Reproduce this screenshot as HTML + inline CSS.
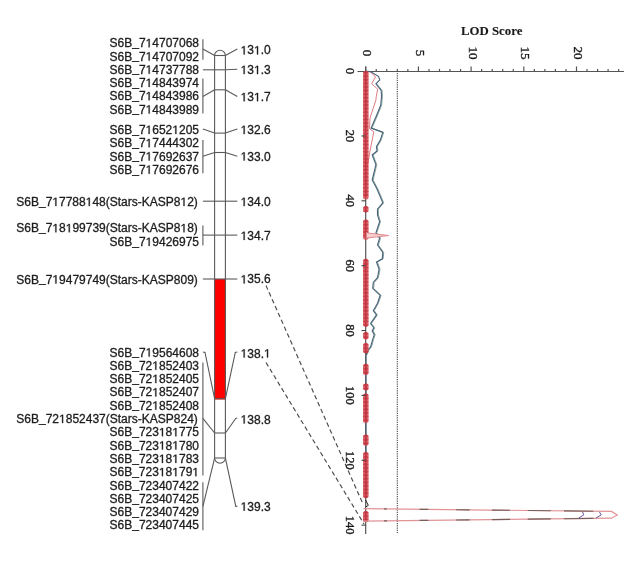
<!DOCTYPE html>
<html><head><meta charset="utf-8"><style>
html,body{margin:0;padding:0;background:#fff;}
svg{display:block;will-change:transform;}
</style></head><body>
<svg width="624" height="565" viewBox="0 0 624 565">
<defs><filter id="bl" x="0" y="0" width="624" height="565" filterUnits="userSpaceOnUse"><feGaussianBlur stdDeviation="0.3"/></filter></defs>
<rect width="624" height="565" fill="#fff"/>
<g filter="url(#bl)">
<g font-family="Liberation Sans, sans-serif" font-size="12" fill="#1c1c1c" stroke="#1c1c1c" stroke-width="0.3">
<text class="lab" x="199" y="47.20" text-anchor="end">S6B<tspan dy="-1.3">_</tspan><tspan dy="1.3">7<tspan fill="transparent" stroke="transparent">1</tspan>4707068</tspan></text>
<text class="lab" x="199" y="60.50" text-anchor="end">S6B<tspan dy="-1.3">_</tspan><tspan dy="1.3">7<tspan fill="transparent" stroke="transparent">1</tspan>4707092</tspan></text>
<text class="lab" x="199" y="73.70" text-anchor="end">S6B<tspan dy="-1.3">_</tspan><tspan dy="1.3">7<tspan fill="transparent" stroke="transparent">1</tspan>4737788</tspan></text>
<text class="lab" x="199" y="87.00" text-anchor="end">S6B<tspan dy="-1.3">_</tspan><tspan dy="1.3">7<tspan fill="transparent" stroke="transparent">1</tspan>4843974</tspan></text>
<text class="lab" x="199" y="100.30" text-anchor="end">S6B<tspan dy="-1.3">_</tspan><tspan dy="1.3">7<tspan fill="transparent" stroke="transparent">1</tspan>4843986</tspan></text>
<text class="lab" x="199" y="113.60" text-anchor="end">S6B<tspan dy="-1.3">_</tspan><tspan dy="1.3">7<tspan fill="transparent" stroke="transparent">1</tspan>4843989</tspan></text>
<text class="lab" x="199" y="133.90" text-anchor="end">S6B<tspan dy="-1.3">_</tspan><tspan dy="1.3">7<tspan fill="transparent" stroke="transparent">1</tspan>652<tspan fill="transparent" stroke="transparent">1</tspan>205</tspan></text>
<text class="lab" x="199" y="147.20" text-anchor="end">S6B<tspan dy="-1.3">_</tspan><tspan dy="1.3">7<tspan fill="transparent" stroke="transparent">1</tspan>7444302</tspan></text>
<text class="lab" x="199" y="160.50" text-anchor="end">S6B<tspan dy="-1.3">_</tspan><tspan dy="1.3">7<tspan fill="transparent" stroke="transparent">1</tspan>7692637</tspan></text>
<text class="lab" x="199" y="173.80" text-anchor="end">S6B<tspan dy="-1.3">_</tspan><tspan dy="1.3">7<tspan fill="transparent" stroke="transparent">1</tspan>7692676</tspan></text>
<text class="lab" x="197.8" y="206.00" text-anchor="end">S6B<tspan dy="-1.3">_</tspan><tspan dy="1.3">7<tspan fill="transparent" stroke="transparent">1</tspan>7788<tspan fill="transparent" stroke="transparent">1</tspan>48(Stars-KASP8<tspan fill="transparent" stroke="transparent">1</tspan>2)</tspan></text>
<text class="lab" x="197.8" y="232.30" text-anchor="end">S6B<tspan dy="-1.3">_</tspan><tspan dy="1.3">7<tspan fill="transparent" stroke="transparent">1</tspan>8<tspan fill="transparent" stroke="transparent">1</tspan>99739(Stars-KASP8<tspan fill="transparent" stroke="transparent">1</tspan>8)</tspan></text>
<text class="lab" x="199" y="246.00" text-anchor="end">S6B<tspan dy="-1.3">_</tspan><tspan dy="1.3">7<tspan fill="transparent" stroke="transparent">1</tspan>9426975</tspan></text>
<text class="lab" x="197.8" y="283.50" text-anchor="end">S6B<tspan dy="-1.3">_</tspan><tspan dy="1.3">7<tspan fill="transparent" stroke="transparent">1</tspan>9479749(Stars-KASP809)</tspan></text>
<text class="lab" x="199" y="356.50" text-anchor="end">S6B<tspan dy="-1.3">_</tspan><tspan dy="1.3">7<tspan fill="transparent" stroke="transparent">1</tspan>9564608</tspan></text>
<text class="lab" x="199" y="369.80" text-anchor="end">S6B<tspan dy="-1.3">_</tspan><tspan dy="1.3">72<tspan fill="transparent" stroke="transparent">1</tspan>852403</tspan></text>
<text class="lab" x="199" y="383.10" text-anchor="end">S6B<tspan dy="-1.3">_</tspan><tspan dy="1.3">72<tspan fill="transparent" stroke="transparent">1</tspan>852405</tspan></text>
<text class="lab" x="199" y="396.40" text-anchor="end">S6B<tspan dy="-1.3">_</tspan><tspan dy="1.3">72<tspan fill="transparent" stroke="transparent">1</tspan>852407</tspan></text>
<text class="lab" x="199" y="409.70" text-anchor="end">S6B<tspan dy="-1.3">_</tspan><tspan dy="1.3">72<tspan fill="transparent" stroke="transparent">1</tspan>852408</tspan></text>
<text class="lab" x="197.8" y="423.00" text-anchor="end">S6B<tspan dy="-1.3">_</tspan><tspan dy="1.3">72<tspan fill="transparent" stroke="transparent">1</tspan>852437(Stars-KASP824)</tspan></text>
<text class="lab" x="199" y="436.30" text-anchor="end">S6B<tspan dy="-1.3">_</tspan><tspan dy="1.3">723<tspan fill="transparent" stroke="transparent">1</tspan>8<tspan fill="transparent" stroke="transparent">1</tspan>775</tspan></text>
<text class="lab" x="199" y="449.60" text-anchor="end">S6B<tspan dy="-1.3">_</tspan><tspan dy="1.3">723<tspan fill="transparent" stroke="transparent">1</tspan>8<tspan fill="transparent" stroke="transparent">1</tspan>780</tspan></text>
<text class="lab" x="199" y="462.90" text-anchor="end">S6B<tspan dy="-1.3">_</tspan><tspan dy="1.3">723<tspan fill="transparent" stroke="transparent">1</tspan>8<tspan fill="transparent" stroke="transparent">1</tspan>783</tspan></text>
<text class="lab" x="199" y="476.20" text-anchor="end">S6B<tspan dy="-1.3">_</tspan><tspan dy="1.3">723<tspan fill="transparent" stroke="transparent">1</tspan>8<tspan fill="transparent" stroke="transparent">1</tspan>79<tspan fill="transparent" stroke="transparent">1</tspan></tspan></text>
<text class="lab" x="199" y="489.50" text-anchor="end">S6B<tspan dy="-1.3">_</tspan><tspan dy="1.3">723407422</tspan></text>
<text class="lab" x="199" y="502.80" text-anchor="end">S6B<tspan dy="-1.3">_</tspan><tspan dy="1.3">723407425</tspan></text>
<text class="lab" x="199" y="516.10" text-anchor="end">S6B<tspan dy="-1.3">_</tspan><tspan dy="1.3">723407429</tspan></text>
<text class="lab" x="199" y="529.40" text-anchor="end">S6B<tspan dy="-1.3">_</tspan><tspan dy="1.3">723407445</tspan></text>
<text class="lab" x="240.6" y="54.40"><tspan fill="transparent" stroke="transparent">1</tspan>3<tspan fill="transparent" stroke="transparent">1</tspan>.0</text>
<text class="lab" x="240.6" y="74.10"><tspan fill="transparent" stroke="transparent">1</tspan>3<tspan fill="transparent" stroke="transparent">1</tspan>.3</text>
<text class="lab" x="240.6" y="101.20"><tspan fill="transparent" stroke="transparent">1</tspan>3<tspan fill="transparent" stroke="transparent">1</tspan>.7</text>
<text class="lab" x="240.6" y="134.10"><tspan fill="transparent" stroke="transparent">1</tspan>32.6</text>
<text class="lab" x="240.6" y="160.60"><tspan fill="transparent" stroke="transparent">1</tspan>33.0</text>
<text class="lab" x="240.6" y="206.10"><tspan fill="transparent" stroke="transparent">1</tspan>34.0</text>
<text class="lab" x="240.6" y="239.90"><tspan fill="transparent" stroke="transparent">1</tspan>34.7</text>
<text class="lab" x="240.6" y="283.40"><tspan fill="transparent" stroke="transparent">1</tspan>35.6</text>
<text class="lab" x="240.6" y="357.60"><tspan fill="transparent" stroke="transparent">1</tspan>38.<tspan fill="transparent" stroke="transparent">1</tspan></text>
<text class="lab" x="240.6" y="423.60"><tspan fill="transparent" stroke="transparent">1</tspan>38.8</text>
<text class="lab" x="240.6" y="510.70"><tspan fill="transparent" stroke="transparent">1</tspan>39.3</text>
</g>
<path fill="#1c1c1c" stroke="#1c1c1c" stroke-width="0.3" stroke-linejoin="round" d="M148.61 47.20 L148.61 39.95 L146.75 41.28 L146.75 40.29 L148.70 38.94 L149.67 38.94 L149.67 47.20Z M148.61 60.50 L148.61 53.25 L146.75 54.58 L146.75 53.59 L148.70 52.24 L149.67 52.24 L149.67 60.50Z M148.61 73.70 L148.61 66.45 L146.75 67.78 L146.75 66.79 L148.70 65.44 L149.67 65.44 L149.67 73.70Z M148.61 87.00 L148.61 79.75 L146.75 81.08 L146.75 80.09 L148.70 78.74 L149.67 78.74 L149.67 87.00Z M148.61 100.30 L148.61 93.05 L146.75 94.38 L146.75 93.39 L148.70 92.04 L149.67 92.04 L149.67 100.30Z M148.61 113.60 L148.61 106.35 L146.75 107.68 L146.75 106.69 L148.70 105.34 L149.67 105.34 L149.67 113.60Z M148.58 133.90 L148.58 126.65 L146.72 127.98 L146.72 126.99 L148.67 125.64 L149.64 125.64 L149.64 133.90Z M175.30 133.90 L175.30 126.65 L173.44 127.98 L173.44 126.99 L175.39 125.64 L176.36 125.64 L176.36 133.90Z M148.61 147.20 L148.61 139.95 L146.75 141.28 L146.75 140.29 L148.70 138.94 L149.67 138.94 L149.67 147.20Z M148.61 160.50 L148.61 153.25 L146.75 154.58 L146.75 153.59 L148.70 152.24 L149.67 152.24 L149.67 160.50Z M148.61 173.80 L148.61 166.55 L146.75 167.88 L146.75 166.89 L148.70 165.54 L149.67 165.54 L149.67 173.80Z M55.33 206.00 L55.33 198.75 L53.47 200.08 L53.47 199.09 L55.42 197.74 L56.39 197.74 L56.39 206.00Z M88.72 206.00 L88.72 198.75 L86.86 200.08 L86.86 199.09 L88.81 197.74 L89.78 197.74 L89.78 206.00Z M183.46 206.00 L183.46 198.75 L181.59 200.08 L181.59 199.09 L183.55 197.74 L184.52 197.74 L184.52 206.00Z M55.33 232.30 L55.33 225.05 L53.47 226.38 L53.47 225.39 L55.42 224.04 L56.39 224.04 L56.39 232.30Z M68.71 232.30 L68.71 225.05 L66.84 226.38 L66.84 225.39 L68.80 224.04 L69.77 224.04 L69.77 232.30Z M183.46 232.30 L183.46 225.05 L181.59 226.38 L181.59 225.39 L183.55 224.04 L184.52 224.04 L184.52 232.30Z M148.61 246.00 L148.61 238.75 L146.75 240.08 L146.75 239.09 L148.70 237.74 L149.67 237.74 L149.67 246.00Z M55.38 283.50 L55.38 276.25 L53.52 277.58 L53.52 276.59 L55.47 275.24 L56.44 275.24 L56.44 283.50Z M148.61 356.50 L148.61 349.25 L146.75 350.58 L146.75 349.59 L148.70 348.24 L149.67 348.24 L149.67 356.50Z M155.28 369.80 L155.28 362.55 L153.42 363.88 L153.42 362.89 L155.37 361.54 L156.34 361.54 L156.34 369.80Z M155.28 383.10 L155.28 375.85 L153.42 377.18 L153.42 376.19 L155.37 374.84 L156.34 374.84 L156.34 383.10Z M155.28 396.40 L155.28 389.15 L153.42 390.48 L153.42 389.49 L155.37 388.14 L156.34 388.14 L156.34 396.40Z M155.28 409.70 L155.28 402.45 L153.42 403.78 L153.42 402.79 L155.37 401.44 L156.34 401.44 L156.34 409.70Z M62.05 423.00 L62.05 415.75 L60.19 417.08 L60.19 416.09 L62.14 414.74 L63.11 414.74 L63.11 423.00Z M161.92 436.30 L161.92 429.05 L160.06 430.38 L160.06 429.39 L162.01 428.04 L162.98 428.04 L162.98 436.30Z M175.30 436.30 L175.30 429.05 L173.44 430.38 L173.44 429.39 L175.39 428.04 L176.36 428.04 L176.36 436.30Z M161.92 449.60 L161.92 442.35 L160.06 443.68 L160.06 442.69 L162.01 441.34 L162.98 441.34 L162.98 449.60Z M175.30 449.60 L175.30 442.35 L173.44 443.68 L173.44 442.69 L175.39 441.34 L176.36 441.34 L176.36 449.60Z M161.92 462.90 L161.92 455.65 L160.06 456.98 L160.06 455.99 L162.01 454.64 L162.98 454.64 L162.98 462.90Z M175.30 462.90 L175.30 455.65 L173.44 456.98 L173.44 455.99 L175.39 454.64 L176.36 454.64 L176.36 462.90Z M161.91 476.20 L161.91 468.95 L160.04 470.28 L160.04 469.29 L162.00 467.94 L162.97 467.94 L162.97 476.20Z M175.28 476.20 L175.28 468.95 L173.42 470.28 L173.42 469.29 L175.37 467.94 L176.34 467.94 L176.34 476.20Z M195.33 476.20 L195.33 468.95 L193.47 470.28 L193.47 469.29 L195.42 467.94 L196.39 467.94 L196.39 476.20Z M243.62 54.40 L243.62 47.15 L241.75 48.48 L241.75 47.49 L243.71 46.14 L244.68 46.14 L244.68 54.40Z M256.99 54.40 L256.99 47.15 L255.13 48.48 L255.13 47.49 L257.08 46.14 L258.05 46.14 L258.05 54.40Z M243.62 74.10 L243.62 66.85 L241.75 68.18 L241.75 67.19 L243.71 65.84 L244.68 65.84 L244.68 74.10Z M256.99 74.10 L256.99 66.85 L255.13 68.18 L255.13 67.19 L257.08 65.84 L258.05 65.84 L258.05 74.10Z M243.62 101.20 L243.62 93.95 L241.75 95.28 L241.75 94.29 L243.71 92.94 L244.68 92.94 L244.68 101.20Z M256.99 101.20 L256.99 93.95 L255.13 95.28 L255.13 94.29 L257.08 92.94 L258.05 92.94 L258.05 101.20Z M243.62 134.10 L243.62 126.85 L241.75 128.18 L241.75 127.19 L243.71 125.84 L244.68 125.84 L244.68 134.10Z M243.62 160.60 L243.62 153.35 L241.75 154.68 L241.75 153.69 L243.71 152.34 L244.68 152.34 L244.68 160.60Z M243.62 206.10 L243.62 198.85 L241.75 200.18 L241.75 199.19 L243.71 197.84 L244.68 197.84 L244.68 206.10Z M243.62 239.90 L243.62 232.65 L241.75 233.98 L241.75 232.99 L243.71 231.64 L244.68 231.64 L244.68 239.90Z M243.62 283.40 L243.62 276.15 L241.75 277.48 L241.75 276.49 L243.71 275.14 L244.68 275.14 L244.68 283.40Z M243.62 357.60 L243.62 350.35 L241.75 351.68 L241.75 350.69 L243.71 349.34 L244.68 349.34 L244.68 357.60Z M266.99 357.60 L266.99 350.35 L265.13 351.68 L265.13 350.69 L267.08 349.34 L268.05 349.34 L268.05 357.60Z M243.62 423.60 L243.62 416.35 L241.75 417.68 L241.75 416.69 L243.71 415.34 L244.68 415.34 L244.68 423.60Z M243.62 510.70 L243.62 503.45 L241.75 504.78 L241.75 503.79 L243.71 502.44 L244.68 502.44 L244.68 510.70Z"/>
<rect x="214.3" y="279" width="11.5" height="120.5" fill="#f00"/>
<g fill="none" stroke="#5a5a5a" stroke-width="1.1">
<path d="M214.6 458 L214.6 55.5 A5.4 5.2 0 0 1 225.4 55.5 L225.4 458 A5.4 5.2 0 0 1 214.6 458"/>
<line x1="214.6" y1="55.5" x2="225.4" y2="55.5"/>
<line x1="214.6" y1="69.8" x2="225.4" y2="69.8"/>
<line x1="214.6" y1="89.8" x2="225.4" y2="89.8"/>
<line x1="214.6" y1="133.1" x2="225.4" y2="133.1"/>
<line x1="214.6" y1="152.5" x2="225.4" y2="152.5"/>
<line x1="214.6" y1="201.2" x2="225.4" y2="201.2"/>
<line x1="214.6" y1="235.1" x2="225.4" y2="235.1"/>
<line x1="214.6" y1="279" x2="225.4" y2="279"/>
<line x1="214.6" y1="398.7" x2="225.4" y2="398.7"/>
<line x1="214.6" y1="433" x2="225.4" y2="433"/>
<line x1="214.6" y1="458" x2="225.4" y2="458"/>
<line x1="202.9" y1="39.3" x2="202.9" y2="59.7"/>
<line x1="202.9" y1="78.5" x2="202.9" y2="113.5"/>
<line x1="202.9" y1="140.1" x2="202.9" y2="173.3"/>
<line x1="202.9" y1="225.4" x2="202.9" y2="245.6"/>
<line x1="202.9" y1="362.4" x2="202.9" y2="475.6"/>
<line x1="202.9" y1="482.3" x2="202.9" y2="530.2"/>
<polyline points="202.9,49.1 214.6,55.5"/>
<polyline points="225.4,55.5 237.3,49.1"/>
<polyline points="202.9,69.8 214.6,69.8"/>
<polyline points="225.4,69.8 237.3,69.2"/>
<polyline points="202.9,96.5 214.6,89.8"/>
<polyline points="225.4,89.8 237.3,96.5"/>
<polyline points="202.9,129 214.6,133.1"/>
<polyline points="225.4,133.1 237.3,129"/>
<polyline points="202.9,156.3 214.6,152.5"/>
<polyline points="225.4,152.5 237.3,156.3"/>
<polyline points="202.9,201.2 214.6,201.2"/>
<polyline points="225.4,201.2 237.3,201.2"/>
<polyline points="202.9,235.1 214.6,235.1"/>
<polyline points="225.4,235.1 237.3,235.1"/>
<polyline points="202.9,279 214.6,279"/>
<polyline points="225.4,279 237.3,279"/>
<polyline points="202.9,352 205,352.4 214.6,398.7"/>
<polyline points="237.3,352 235.3,352.4 225.4,398.7"/>
<polyline points="202.9,418.3 214.6,433"/>
<polyline points="237.3,418.3 235.9,418.3 225.4,433"/>
<polyline points="202.9,506.4 214.6,458.2"/>
<polyline points="237.3,506.4 235.8,506.4 225.4,458.2"/>
</g>
<g stroke="#4a4a4a" stroke-width="1.15" stroke-dasharray="4.5 3" fill="none">
<line x1="266" y1="285.5" x2="363" y2="504"/>
<line x1="266" y1="362.5" x2="364" y2="524"/>
</g>
<g fill="none" stroke="#555" stroke-width="1.2">
<line x1="357.5" y1="71.5" x2="624" y2="71.5"/>
<line x1="365.7" y1="66.6" x2="365.7" y2="534"/>
<line x1="365.70" y1="66.5" x2="365.70" y2="71.1"/>
<line x1="376.24" y1="68.9" x2="376.24" y2="71.1"/>
<line x1="386.78" y1="68.9" x2="386.78" y2="71.1"/>
<line x1="397.32" y1="68.9" x2="397.32" y2="71.1"/>
<line x1="407.86" y1="68.9" x2="407.86" y2="71.1"/>
<line x1="418.40" y1="66.5" x2="418.40" y2="71.1"/>
<line x1="428.94" y1="68.9" x2="428.94" y2="71.1"/>
<line x1="439.48" y1="68.9" x2="439.48" y2="71.1"/>
<line x1="450.02" y1="68.9" x2="450.02" y2="71.1"/>
<line x1="460.56" y1="68.9" x2="460.56" y2="71.1"/>
<line x1="471.10" y1="66.5" x2="471.10" y2="71.1"/>
<line x1="481.64" y1="68.9" x2="481.64" y2="71.1"/>
<line x1="492.18" y1="68.9" x2="492.18" y2="71.1"/>
<line x1="502.72" y1="68.9" x2="502.72" y2="71.1"/>
<line x1="513.26" y1="68.9" x2="513.26" y2="71.1"/>
<line x1="523.80" y1="66.5" x2="523.80" y2="71.1"/>
<line x1="534.34" y1="68.9" x2="534.34" y2="71.1"/>
<line x1="544.88" y1="68.9" x2="544.88" y2="71.1"/>
<line x1="555.42" y1="68.9" x2="555.42" y2="71.1"/>
<line x1="565.96" y1="68.9" x2="565.96" y2="71.1"/>
<line x1="576.50" y1="66.5" x2="576.50" y2="71.1"/>
<line x1="587.04" y1="68.9" x2="587.04" y2="71.1"/>
<line x1="597.58" y1="68.9" x2="597.58" y2="71.1"/>
<line x1="608.12" y1="68.9" x2="608.12" y2="71.1"/>
<line x1="618.66" y1="68.9" x2="618.66" y2="71.1"/>
<line x1="629.20" y1="66.5" x2="629.20" y2="71.1"/>
</g>
<line x1="397.32" y1="71.1" x2="397.32" y2="533.5" stroke="#505050" stroke-width="1.15" stroke-dasharray="1 0.8"/>
<g font-family="Liberation Serif, serif" font-size="12.5" fill="#1a1a1a" stroke="#1a1a1a" stroke-width="0.35">
<text x="491.7" y="35" text-anchor="middle" font-weight="bold" font-size="12.8" stroke-width="0.12">LOD Score</text>
<text transform="translate(367.90,53) rotate(90)" text-anchor="middle" y="4.6" font-size="13.2">0</text>
<text transform="translate(420.60,53) rotate(90)" text-anchor="middle" y="4.6" font-size="13.2">5</text>
<text transform="translate(473.30,53) rotate(90)" text-anchor="middle" y="4.6" font-size="13.2">10</text>
<text transform="translate(526.00,53) rotate(90)" text-anchor="middle" y="4.6" font-size="13.2">15</text>
<text transform="translate(578.70,53) rotate(90)" text-anchor="middle" y="4.6" font-size="13.2">20</text>
<text transform="translate(350.3,71.10) rotate(90)" text-anchor="middle" y="4.3">0</text>
<text transform="translate(350.3,135.96) rotate(90)" text-anchor="middle" y="4.3">20</text>
<text transform="translate(350.3,200.82) rotate(90)" text-anchor="middle" y="4.3">40</text>
<text transform="translate(350.3,265.68) rotate(90)" text-anchor="middle" y="4.3">60</text>
<text transform="translate(350.3,330.54) rotate(90)" text-anchor="middle" y="4.3">80</text>
<text transform="translate(350.3,395.40) rotate(90)" text-anchor="middle" y="4.3">100</text>
<text transform="translate(350.3,460.26) rotate(90)" text-anchor="middle" y="4.3">120</text>
<text transform="translate(350.3,525.12) rotate(90)" text-anchor="middle" y="4.3">140</text>
</g>
<polyline points="376.8,83.8 382.1,90.5 382.4,96.9 382.1,100.0 381.6,105.3 376.8,117.0 372.0,128.1 383.7,132.4 381.1,140.3 377.3,146.7 377.9,151.0 373.1,155.0 376.8,164.6 375.8,168.8 373.1,180.0 377.9,189.0 383.7,202.8 378.4,209.2 378.4,215.0 380.5,221.7 376.8,232.8 380.5,238.1 378.4,245.0 383.7,252.5 383.2,258.8 377.4,262.0 380.0,269.2 378.4,277.7 374.2,282.5 373.6,288.4 381.1,295.3 378.4,303.2 374.2,310.7 377.4,314.9 371.5,323.5 374.7,327.7 373.1,331.0 375.2,334.6 373.6,339.4 371.5,346.9 368.9,350.0 366.9,355.0" fill="none" stroke="#8aa69a" stroke-width="1"/>
<polyline points="366.0,71.2 370.6,72.0 375.5,77.0 371.6,83.8 377.7,89.1 376.2,96.9 375.9,100.0 370.0,118.0 369.5,128.7 373.8,131.8 370.0,151.0 368.5,160.0 366.5,170.0" fill="none" stroke="#e07a80" stroke-width="1"/>
<polyline points="366.0,71.2 370.4,71.5 378.4,76.3 379.8,79.9 375.9,83.8 381.2,90.5 381.5,96.9 381.2,100.0 380.7,105.3 375.9,117.0 371.1,128.1 382.8,132.4 380.2,140.3 376.4,146.7 377.0,151.0 372.2,155.0 375.9,164.6 374.9,168.8 372.2,180.0 377.0,189.0 382.8,202.8 377.5,209.2 377.5,215.0 379.6,221.7 375.9,232.8 379.6,238.1 377.5,245.0 382.8,252.5 382.3,258.8 376.5,262.0 379.1,269.2 377.5,277.7 373.3,282.5 372.7,288.4 380.2,295.3 377.5,303.2 373.3,310.7 376.5,314.9 370.6,323.5 373.8,327.7 372.2,331.0 374.3,334.6 372.7,339.4 370.6,346.9 368.0,350.0 366.0,355.0 366.0,498.0" fill="none" stroke="#46627a" stroke-width="1.1"/>
<g>
<rect x="363" y="71" width="5.6" height="128.5" rx="2.5" fill="#d84a50" opacity="0.85"/>
<path d="M365.8 70.7 L368.9 72.6 L365.8 74.5 L362.7 72.6Z" fill="#b82030" opacity="0.5"/>
<path d="M365.8 74.3 L368.9 76.2 L365.8 78.1 L362.7 76.2Z" fill="#b82030" opacity="0.5"/>
<path d="M365.8 77.9 L368.9 79.8 L365.8 81.7 L362.7 79.8Z" fill="#b82030" opacity="0.5"/>
<path d="M365.8 81.5 L368.9 83.4 L365.8 85.3 L362.7 83.4Z" fill="#b82030" opacity="0.5"/>
<path d="M365.8 85.1 L368.9 87.0 L365.8 88.9 L362.7 87.0Z" fill="#b82030" opacity="0.5"/>
<path d="M365.8 88.7 L368.9 90.6 L365.8 92.5 L362.7 90.6Z" fill="#b82030" opacity="0.5"/>
<path d="M365.8 92.3 L368.9 94.2 L365.8 96.1 L362.7 94.2Z" fill="#b82030" opacity="0.5"/>
<path d="M365.8 95.9 L368.9 97.8 L365.8 99.7 L362.7 97.8Z" fill="#b82030" opacity="0.5"/>
<path d="M365.8 99.5 L368.9 101.4 L365.8 103.3 L362.7 101.4Z" fill="#b82030" opacity="0.5"/>
<path d="M365.8 103.1 L368.9 105.0 L365.8 106.9 L362.7 105.0Z" fill="#b82030" opacity="0.5"/>
<path d="M365.8 106.7 L368.9 108.6 L365.8 110.5 L362.7 108.6Z" fill="#b82030" opacity="0.5"/>
<path d="M365.8 110.3 L368.9 112.2 L365.8 114.1 L362.7 112.2Z" fill="#b82030" opacity="0.5"/>
<path d="M365.8 113.9 L368.9 115.8 L365.8 117.7 L362.7 115.8Z" fill="#b82030" opacity="0.5"/>
<path d="M365.8 117.5 L368.9 119.4 L365.8 121.3 L362.7 119.4Z" fill="#b82030" opacity="0.5"/>
<path d="M365.8 121.1 L368.9 123.0 L365.8 124.9 L362.7 123.0Z" fill="#b82030" opacity="0.5"/>
<path d="M365.8 124.7 L368.9 126.6 L365.8 128.5 L362.7 126.6Z" fill="#b82030" opacity="0.5"/>
<path d="M365.8 128.3 L368.9 130.2 L365.8 132.1 L362.7 130.2Z" fill="#b82030" opacity="0.5"/>
<path d="M365.8 131.9 L368.9 133.8 L365.8 135.7 L362.7 133.8Z" fill="#b82030" opacity="0.5"/>
<path d="M365.8 135.5 L368.9 137.4 L365.8 139.3 L362.7 137.4Z" fill="#b82030" opacity="0.5"/>
<path d="M365.8 139.1 L368.9 141.0 L365.8 142.9 L362.7 141.0Z" fill="#b82030" opacity="0.5"/>
<path d="M365.8 142.7 L368.9 144.6 L365.8 146.5 L362.7 144.6Z" fill="#b82030" opacity="0.5"/>
<path d="M365.8 146.3 L368.9 148.2 L365.8 150.1 L362.7 148.2Z" fill="#b82030" opacity="0.5"/>
<path d="M365.8 149.9 L368.9 151.8 L365.8 153.7 L362.7 151.8Z" fill="#b82030" opacity="0.5"/>
<path d="M365.8 153.5 L368.9 155.4 L365.8 157.3 L362.7 155.4Z" fill="#b82030" opacity="0.5"/>
<path d="M365.8 157.1 L368.9 159.0 L365.8 160.9 L362.7 159.0Z" fill="#b82030" opacity="0.5"/>
<path d="M365.8 160.7 L368.9 162.6 L365.8 164.5 L362.7 162.6Z" fill="#b82030" opacity="0.5"/>
<path d="M365.8 164.3 L368.9 166.2 L365.8 168.1 L362.7 166.2Z" fill="#b82030" opacity="0.5"/>
<path d="M365.8 167.9 L368.9 169.8 L365.8 171.7 L362.7 169.8Z" fill="#b82030" opacity="0.5"/>
<path d="M365.8 171.5 L368.9 173.4 L365.8 175.3 L362.7 173.4Z" fill="#b82030" opacity="0.5"/>
<path d="M365.8 175.1 L368.9 177.0 L365.8 178.9 L362.7 177.0Z" fill="#b82030" opacity="0.5"/>
<path d="M365.8 178.7 L368.9 180.6 L365.8 182.5 L362.7 180.6Z" fill="#b82030" opacity="0.5"/>
<path d="M365.8 182.3 L368.9 184.2 L365.8 186.1 L362.7 184.2Z" fill="#b82030" opacity="0.5"/>
<path d="M365.8 185.9 L368.9 187.8 L365.8 189.7 L362.7 187.8Z" fill="#b82030" opacity="0.5"/>
<path d="M365.8 189.5 L368.9 191.4 L365.8 193.3 L362.7 191.4Z" fill="#b82030" opacity="0.5"/>
<path d="M365.8 193.1 L368.9 195.0 L365.8 196.9 L362.7 195.0Z" fill="#b82030" opacity="0.5"/>
<rect x="363" y="206" width="5.6" height="6.3" rx="2.5" fill="#d84a50" opacity="0.85"/>
<path d="M365.8 205.7 L368.9 207.6 L365.8 209.5 L362.7 207.6Z" fill="#b82030" opacity="0.5"/>
<path d="M365.8 209.3 L368.9 211.2 L365.8 213.1 L362.7 211.2Z" fill="#b82030" opacity="0.5"/>
<rect x="363" y="219.6" width="5.6" height="20.1" rx="2.5" fill="#d84a50" opacity="0.85"/>
<path d="M365.8 219.3 L368.9 221.2 L365.8 223.1 L362.7 221.2Z" fill="#b82030" opacity="0.5"/>
<path d="M365.8 222.9 L368.9 224.8 L365.8 226.7 L362.7 224.8Z" fill="#b82030" opacity="0.5"/>
<path d="M365.8 226.5 L368.9 228.4 L365.8 230.3 L362.7 228.4Z" fill="#b82030" opacity="0.5"/>
<path d="M365.8 230.1 L368.9 232.0 L365.8 233.9 L362.7 232.0Z" fill="#b82030" opacity="0.5"/>
<path d="M365.8 233.7 L368.9 235.6 L365.8 237.5 L362.7 235.6Z" fill="#b82030" opacity="0.5"/>
<rect x="363" y="258.8" width="5.6" height="67.9" rx="2.5" fill="#d84a50" opacity="0.85"/>
<path d="M365.8 258.5 L368.9 260.4 L365.8 262.3 L362.7 260.4Z" fill="#b82030" opacity="0.5"/>
<path d="M365.8 262.1 L368.9 264.0 L365.8 265.9 L362.7 264.0Z" fill="#b82030" opacity="0.5"/>
<path d="M365.8 265.7 L368.9 267.6 L365.8 269.5 L362.7 267.6Z" fill="#b82030" opacity="0.5"/>
<path d="M365.8 269.3 L368.9 271.2 L365.8 273.1 L362.7 271.2Z" fill="#b82030" opacity="0.5"/>
<path d="M365.8 272.9 L368.9 274.8 L365.8 276.7 L362.7 274.8Z" fill="#b82030" opacity="0.5"/>
<path d="M365.8 276.5 L368.9 278.4 L365.8 280.3 L362.7 278.4Z" fill="#b82030" opacity="0.5"/>
<path d="M365.8 280.1 L368.9 282.0 L365.8 283.9 L362.7 282.0Z" fill="#b82030" opacity="0.5"/>
<path d="M365.8 283.7 L368.9 285.6 L365.8 287.5 L362.7 285.6Z" fill="#b82030" opacity="0.5"/>
<path d="M365.8 287.3 L368.9 289.2 L365.8 291.1 L362.7 289.2Z" fill="#b82030" opacity="0.5"/>
<path d="M365.8 290.9 L368.9 292.8 L365.8 294.7 L362.7 292.8Z" fill="#b82030" opacity="0.5"/>
<path d="M365.8 294.5 L368.9 296.4 L365.8 298.3 L362.7 296.4Z" fill="#b82030" opacity="0.5"/>
<path d="M365.8 298.1 L368.9 300.0 L365.8 301.9 L362.7 300.0Z" fill="#b82030" opacity="0.5"/>
<path d="M365.8 301.7 L368.9 303.6 L365.8 305.5 L362.7 303.6Z" fill="#b82030" opacity="0.5"/>
<path d="M365.8 305.3 L368.9 307.2 L365.8 309.1 L362.7 307.2Z" fill="#b82030" opacity="0.5"/>
<path d="M365.8 308.9 L368.9 310.8 L365.8 312.7 L362.7 310.8Z" fill="#b82030" opacity="0.5"/>
<path d="M365.8 312.5 L368.9 314.4 L365.8 316.3 L362.7 314.4Z" fill="#b82030" opacity="0.5"/>
<path d="M365.8 316.1 L368.9 318.0 L365.8 319.9 L362.7 318.0Z" fill="#b82030" opacity="0.5"/>
<path d="M365.8 319.7 L368.9 321.6 L365.8 323.5 L362.7 321.6Z" fill="#b82030" opacity="0.5"/>
<path d="M365.8 323.3 L368.9 325.2 L365.8 327.1 L362.7 325.2Z" fill="#b82030" opacity="0.5"/>
<rect x="363" y="332" width="5.6" height="7.4" rx="2.5" fill="#d84a50" opacity="0.85"/>
<path d="M365.8 331.7 L368.9 333.6 L365.8 335.5 L362.7 333.6Z" fill="#b82030" opacity="0.5"/>
<path d="M365.8 335.3 L368.9 337.2 L365.8 339.1 L362.7 337.2Z" fill="#b82030" opacity="0.5"/>
<rect x="363" y="343" width="5.6" height="10.2" rx="2.5" fill="#d84a50" opacity="0.85"/>
<path d="M365.8 342.7 L368.9 344.6 L365.8 346.5 L362.7 344.6Z" fill="#b82030" opacity="0.5"/>
<path d="M365.8 346.3 L368.9 348.2 L365.8 350.1 L362.7 348.2Z" fill="#b82030" opacity="0.5"/>
<path d="M365.8 349.9 L368.9 351.8 L365.8 353.7 L362.7 351.8Z" fill="#b82030" opacity="0.5"/>
<rect x="363" y="363.8" width="5.6" height="11.2" rx="2.5" fill="#d84a50" opacity="0.85"/>
<path d="M365.8 363.5 L368.9 365.4 L365.8 367.3 L362.7 365.4Z" fill="#b82030" opacity="0.5"/>
<path d="M365.8 367.1 L368.9 369.0 L365.8 370.9 L362.7 369.0Z" fill="#b82030" opacity="0.5"/>
<path d="M365.8 370.7 L368.9 372.6 L365.8 374.5 L362.7 372.6Z" fill="#b82030" opacity="0.5"/>
<rect x="363" y="383.5" width="5.6" height="7.1" rx="2.5" fill="#d84a50" opacity="0.85"/>
<path d="M365.8 383.2 L368.9 385.1 L365.8 387.0 L362.7 385.1Z" fill="#b82030" opacity="0.5"/>
<path d="M365.8 386.8 L368.9 388.7 L365.8 390.6 L362.7 388.7Z" fill="#b82030" opacity="0.5"/>
<rect x="363" y="393.4" width="5.6" height="29.6" rx="2.5" fill="#d84a50" opacity="0.85"/>
<path d="M365.8 393.1 L368.9 395.0 L365.8 396.9 L362.7 395.0Z" fill="#b82030" opacity="0.5"/>
<path d="M365.8 396.7 L368.9 398.6 L365.8 400.5 L362.7 398.6Z" fill="#b82030" opacity="0.5"/>
<path d="M365.8 400.3 L368.9 402.2 L365.8 404.1 L362.7 402.2Z" fill="#b82030" opacity="0.5"/>
<path d="M365.8 403.9 L368.9 405.8 L365.8 407.7 L362.7 405.8Z" fill="#b82030" opacity="0.5"/>
<path d="M365.8 407.5 L368.9 409.4 L365.8 411.3 L362.7 409.4Z" fill="#b82030" opacity="0.5"/>
<path d="M365.8 411.1 L368.9 413.0 L365.8 414.9 L362.7 413.0Z" fill="#b82030" opacity="0.5"/>
<path d="M365.8 414.7 L368.9 416.6 L365.8 418.5 L362.7 416.6Z" fill="#b82030" opacity="0.5"/>
<path d="M365.8 418.3 L368.9 420.2 L365.8 422.1 L362.7 420.2Z" fill="#b82030" opacity="0.5"/>
<rect x="363" y="434.5" width="5.6" height="11.3" rx="2.5" fill="#d84a50" opacity="0.85"/>
<path d="M365.8 434.2 L368.9 436.1 L365.8 438.0 L362.7 436.1Z" fill="#b82030" opacity="0.5"/>
<path d="M365.8 437.8 L368.9 439.7 L365.8 441.6 L362.7 439.7Z" fill="#b82030" opacity="0.5"/>
<path d="M365.8 441.4 L368.9 443.3 L365.8 445.2 L362.7 443.3Z" fill="#b82030" opacity="0.5"/>
<rect x="363" y="452" width="5.6" height="46.0" rx="2.5" fill="#d84a50" opacity="0.85"/>
<path d="M365.8 451.7 L368.9 453.6 L365.8 455.5 L362.7 453.6Z" fill="#b82030" opacity="0.5"/>
<path d="M365.8 455.3 L368.9 457.2 L365.8 459.1 L362.7 457.2Z" fill="#b82030" opacity="0.5"/>
<path d="M365.8 458.9 L368.9 460.8 L365.8 462.7 L362.7 460.8Z" fill="#b82030" opacity="0.5"/>
<path d="M365.8 462.5 L368.9 464.4 L365.8 466.3 L362.7 464.4Z" fill="#b82030" opacity="0.5"/>
<path d="M365.8 466.1 L368.9 468.0 L365.8 469.9 L362.7 468.0Z" fill="#b82030" opacity="0.5"/>
<path d="M365.8 469.7 L368.9 471.6 L365.8 473.5 L362.7 471.6Z" fill="#b82030" opacity="0.5"/>
<path d="M365.8 473.3 L368.9 475.2 L365.8 477.1 L362.7 475.2Z" fill="#b82030" opacity="0.5"/>
<path d="M365.8 476.9 L368.9 478.8 L365.8 480.7 L362.7 478.8Z" fill="#b82030" opacity="0.5"/>
<path d="M365.8 480.5 L368.9 482.4 L365.8 484.3 L362.7 482.4Z" fill="#b82030" opacity="0.5"/>
<path d="M365.8 484.1 L368.9 486.0 L365.8 487.9 L362.7 486.0Z" fill="#b82030" opacity="0.5"/>
<path d="M365.8 487.7 L368.9 489.6 L365.8 491.5 L362.7 489.6Z" fill="#b82030" opacity="0.5"/>
<path d="M365.8 491.3 L368.9 493.2 L365.8 495.1 L362.7 493.2Z" fill="#b82030" opacity="0.5"/>
<path d="M365.8 494.9 L368.9 496.8 L365.8 498.7 L362.7 496.8Z" fill="#b82030" opacity="0.5"/>
<rect x="363" y="511" width="5.6" height="11.2" rx="2.5" fill="#d84a50" opacity="0.85"/>
<path d="M365.8 510.7 L368.9 512.6 L365.8 514.5 L362.7 512.6Z" fill="#b82030" opacity="0.5"/>
<path d="M365.8 514.3 L368.9 516.2 L365.8 518.1 L362.7 516.2Z" fill="#b82030" opacity="0.5"/>
<path d="M365.8 517.9 L368.9 519.8 L365.8 521.7 L362.7 519.8Z" fill="#b82030" opacity="0.5"/>
</g>
<line x1="361.5" y1="135.96" x2="365.7" y2="135.96" stroke="#444" stroke-width="1.1"/>
<line x1="361.5" y1="200.82" x2="365.7" y2="200.82" stroke="#444" stroke-width="1.1"/>
<line x1="361.5" y1="265.68" x2="365.7" y2="265.68" stroke="#444" stroke-width="1.1"/>
<line x1="361.5" y1="330.54" x2="365.7" y2="330.54" stroke="#444" stroke-width="1.1"/>
<line x1="361.5" y1="395.40" x2="365.7" y2="395.40" stroke="#444" stroke-width="1.1"/>
<line x1="361.5" y1="460.26" x2="365.7" y2="460.26" stroke="#444" stroke-width="1.1"/>
<line x1="361.5" y1="525.12" x2="365.7" y2="525.12" stroke="#444" stroke-width="1.1"/>
<path d="M366.4 232.8 L388.7 235.5 L366.4 238.1Z" fill="#f6d0d0" stroke="#e08890" stroke-width="1"/>
<polyline points="365.6,500 368.3,505.4 365.6,507" fill="none" stroke="#222" stroke-width="1"/>
<path d="M363.5 508.7 L611.5 511.4 L617.2 514.9 L611.5 518.2 L363.5 521.1" fill="none" stroke="#e09496" stroke-width="1.2"/>
<line x1="384" y1="508.92" x2="387" y2="508.96" stroke="#74605c" stroke-width="1.15"/>
<line x1="384" y1="520.86" x2="387" y2="520.83" stroke="#74605c" stroke-width="1.15"/>
<line x1="419.6" y1="509.31" x2="428.3" y2="509.41" stroke="#74605c" stroke-width="1.15"/>
<line x1="419.6" y1="520.44" x2="428.3" y2="520.34" stroke="#74605c" stroke-width="1.15"/>
<line x1="456" y1="509.71" x2="469.6" y2="509.86" stroke="#74605c" stroke-width="1.15"/>
<line x1="456" y1="520.02" x2="469.6" y2="519.86" stroke="#74605c" stroke-width="1.15"/>
<line x1="492" y1="510.10" x2="510" y2="510.29" stroke="#74605c" stroke-width="1.15"/>
<line x1="492" y1="519.60" x2="510" y2="519.39" stroke="#74605c" stroke-width="1.15"/>
<line x1="527.7" y1="510.49" x2="550.8" y2="510.74" stroke="#74605c" stroke-width="1.15"/>
<line x1="527.7" y1="519.18" x2="550.8" y2="518.91" stroke="#74605c" stroke-width="1.15"/>
<line x1="564" y1="510.88" x2="593.4" y2="511.20" stroke="#74605c" stroke-width="1.15"/>
<line x1="564" y1="518.76" x2="593.4" y2="518.41" stroke="#74605c" stroke-width="1.15"/>
<polyline points="582.5,511.9 583.8,514.9 578.7,518" fill="none" stroke="#6a55a0" stroke-width="1"/>
<polyline points="599.4,511.9 601.2,514.9 596,518" fill="none" stroke="#6a55a0" stroke-width="1"/>
</g>
</svg></body></html>
